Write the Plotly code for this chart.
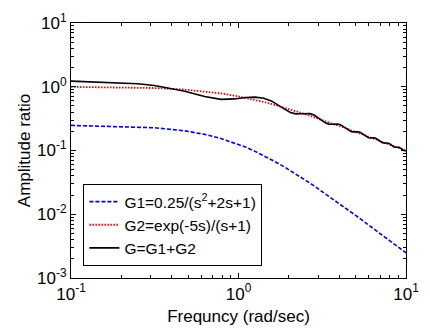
import plotly.graph_objects as go

# frequency (rad/sec)
freq = [0.1, 0.25, 0.314, 0.471, 0.628, 0.785, 0.942, 1.100, 1.257, 1.414, 1.571, 1.728,
        1.885, 2.042, 2.199, 2.356, 2.513, 2.670, 2.827, 2.985, 3.142, 3.299, 3.456, 3.613,
        3.770, 3.927, 4.084, 4.241, 4.398, 4.555, 4.712, 4.869, 5.027, 5.184, 5.341, 5.498,
        5.655, 5.812, 5.969, 6.126, 6.283, 6.440, 6.597, 6.754, 6.912, 7.069, 7.226, 7.383,
        7.540, 7.697, 7.854, 8.011, 8.168, 8.325, 8.482, 8.639, 8.796, 8.954, 9.111, 9.268,
        9.425, 9.582, 9.739, 9.896, 10.0]

amp_g1 = [0.2475, 0.2353, 0.2275, 0.2046, 0.1792, 0.1546, 0.1324, 0.1132, 0.0969, 0.0834,
          0.0721, 0.0627, 0.0549, 0.0484, 0.0428, 0.0382, 0.0342, 0.0308, 0.0278, 0.0252,
          0.0230, 0.0210, 0.0193, 0.0178, 0.0164, 0.0152, 0.0141, 0.0132, 0.0123, 0.0115,
          0.0108, 0.0101, 0.00952, 0.00897, 0.00847, 0.00801, 0.00758, 0.00719, 0.00683,
          0.00649, 0.00618, 0.00589, 0.00561, 0.00536, 0.00513, 0.00491, 0.00470, 0.00450,
          0.00432, 0.00415, 0.00399, 0.00384, 0.00369, 0.00356, 0.00343, 0.00331, 0.00319,
          0.00308, 0.00298, 0.00288, 0.00278, 0.00269, 0.00261, 0.00253, 0.00248]

amp_g2 = [0.9950, 0.9701, 0.9540, 0.9046, 0.8467, 0.7864, 0.7277, 0.6728, 0.6227, 0.5775,
          0.5370, 0.5009, 0.4687, 0.4398, 0.4139, 0.3907, 0.3697, 0.3507, 0.3334, 0.3177,
          0.3033, 0.2901, 0.2780, 0.2668, 0.2564, 0.2468, 0.2378, 0.2295, 0.2217, 0.2144,
          0.2076, 0.2012, 0.1951, 0.1894, 0.1840, 0.1790, 0.1741, 0.1696, 0.1652, 0.1611,
          0.1572, 0.1534, 0.1499, 0.1465, 0.1432, 0.1401, 0.1371, 0.1342, 0.1315, 0.1288,
          0.1263, 0.1239, 0.1215, 0.1193, 0.1171, 0.1150, 0.1130, 0.1110, 0.1091, 0.1073,
          0.1055, 0.1038, 0.1021, 0.1005, 0.0995]

amp_g = [1.227, 1.114, 1.045, 0.8573, 0.7015, 0.6332, 0.6442, 0.6770, 0.6872, 0.6598,
         0.5991, 0.5206, 0.4456, 0.3944, 0.3754, 0.3781, 0.3837, 0.3789, 0.3598, 0.3297,
         0.2972, 0.2717, 0.2595, 0.2585, 0.2611, 0.2600, 0.2516, 0.2367, 0.2193, 0.2048,
         0.1971, 0.1958, 0.1972, 0.1969, 0.1924, 0.1836, 0.1730, 0.1638, 0.1585, 0.1574,
         0.1583, 0.1582, 0.1554, 0.1497, 0.1426, 0.1362, 0.1324, 0.1316, 0.1321, 0.1322,
         0.1303, 0.1263, 0.1211, 0.1165, 0.1137, 0.1130, 0.1134, 0.1134, 0.1121, 0.1091,
         0.1053, 0.1017, 0.0996, 0.0990, 0.0991]

names = ["G1=0.25/(s<sup>2</sup>+2s+1)", "G2=exp(-5s)/(s+1)", "G=G1+G2"]

x_tickvals = [0.1, 1, 10]
x_ticktext = ["10<sup>-1</sup>", "10<sup>0</sup>", "10<sup>1</sup>"]
x_minor = [0.2, 0.3, 0.4, 0.5, 0.6, 0.7, 0.8, 0.9, 2, 3, 4, 5, 6, 7, 8, 9]
y_tickvals = [0.001, 0.01, 0.1, 1, 10]
y_ticktext = ["10<sup>-3</sup>", "10<sup>-2</sup>", "10<sup>-1</sup>", "10<sup>0</sup>", "10<sup>1</sup>"]
y_minor = [0.002, 0.003, 0.004, 0.005, 0.006, 0.007, 0.008, 0.009,
           0.02, 0.03, 0.04, 0.05, 0.06, 0.07, 0.08, 0.09,
           0.2, 0.3, 0.4, 0.5, 0.6, 0.7, 0.8, 0.9,
           2, 3, 4, 5, 6, 7, 8, 9]

FONT = "Liberation Sans, Arial, sans-serif"

fig = go.Figure()
fig.add_trace(go.Scatter(x=freq, y=amp_g1, mode="lines", name=names[0],
                         line=dict(color="#0000FF", width=1.6, dash="4px,2px")))
fig.add_trace(go.Scatter(x=freq, y=amp_g2, mode="lines", name=names[1],
                         line=dict(color="#FF0000", width=1.8, dash="1.5px,1.5px")))
fig.add_trace(go.Scatter(x=freq, y=amp_g, mode="lines", name=names[2],
                         line=dict(color="#000000", width=1.6)))

axis_common = dict(
    type="log", showgrid=False, zeroline=False,
    showline=True, linecolor="black", linewidth=1.2, mirror="ticks",
    ticks="inside", ticklen=5, tickcolor="black", tickwidth=1,
    tickfont=dict(family=FONT, size=17, color="black"),
    ticklabeloverflow="allow",
)

fig.update_xaxes(**axis_common, range=[-1, 1], tickmode="array",
                 tickvals=x_tickvals, ticktext=x_ticktext,
                 minor=dict(tickmode="array", tickvals=x_minor, ticks="inside", ticklen=3,
                            tickcolor="black", tickwidth=1, showgrid=False),
                 title=dict(text="Frequncy (rad/sec)", font=dict(family=FONT, size=17, color="black"),
                            standoff=7))
fig.update_yaxes(**axis_common, range=[-3, 1], tickmode="array",
                 tickvals=y_tickvals, ticktext=y_ticktext,
                 minor=dict(tickmode="array", tickvals=y_minor, ticks="inside", ticklen=3,
                            tickcolor="black", tickwidth=1, showgrid=False),
                 title=dict(text="Amplitude ratio", font=dict(family=FONT, size=17, color="black"),
                            standoff=2))

fig.update_layout(
    width=430, height=333,
    margin=dict(l=71, r=11, t=19, b=51),
    paper_bgcolor="white", plot_bgcolor="white",
    font=dict(family=FONT, color="black"),
    showlegend=True,
    legend=dict(x=0.037, y=0.047, xanchor="left", yanchor="bottom",
                bgcolor="white", bordercolor="black", borderwidth=1,
                font=dict(family=FONT, size=15.5, color="black"),
                itemwidth=30, tracegroupgap=0),
)

fig.write_html("out.html",
               config={"displayModeBar": False},
               post_script="document.body.style.margin='0';document.body.style.padding='0';")
